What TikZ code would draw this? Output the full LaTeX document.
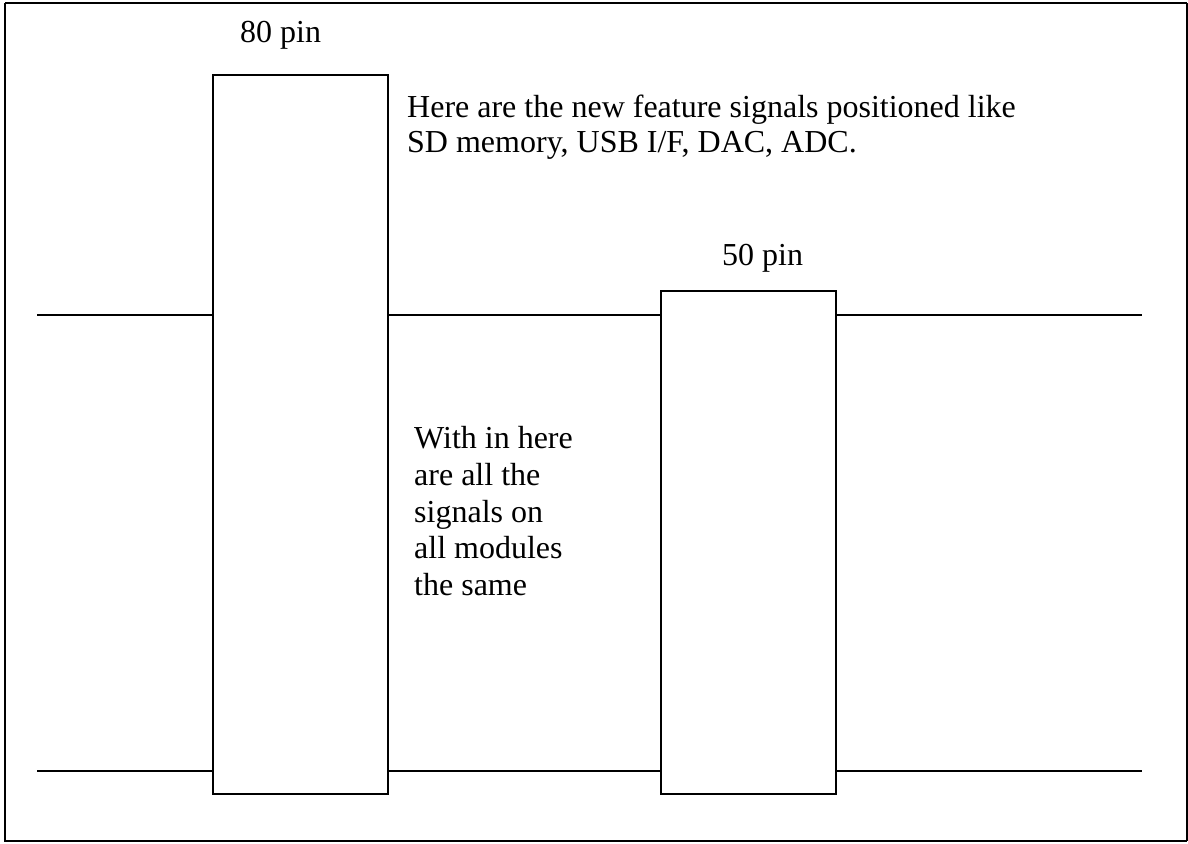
\documentclass[tikz,border=0pt]{standalone}
\usepackage{fontspec}
\setmainfont{Liberation Serif}
\begin{document}
\begin{tikzpicture}[x=1pt,y=-1pt,
  ln/.style={line width=2pt,black},
  pinbox/.style={draw,line width=2pt,rectangle,inner sep=0pt,fill=none},
  lbl/.style={anchor=base west,inner sep=0pt,font=\fontsize{32}{36}\selectfont}]
\useasboundingbox (0,0) rectangle (1188,843);
% outer frame
\draw[line width=2pt] (5,3) -- (1187,3);
\draw[line width=2pt] (5,3) -- (5,841) -- (1187,841);
\draw[line width=2pt] (1187,3) -- (1187,841);
% boxes
\node[pinbox,minimum width=175pt,minimum height=719pt] (box80) at (300.5,434.5) {};
\node[pinbox,minimum width=175pt,minimum height=503pt] (box50) at (748.5,542.5) {};
% bus line end points
\coordinate (tl) at (37,315);
\coordinate (tr) at (1142,315);
\coordinate (bl) at (37,771);
\coordinate (br) at (1142,771);
\draw[ln] (tl) -- (box80.west |- tl);
\draw[ln] (box80.east |- tl) -- (box50.west |- tl);
\draw[ln] (box50.east |- tr) -- (tr);
\draw[ln] (bl) -- (box80.west |- bl);
\draw[ln] (box80.east |- bl) -- (box50.west |- bl);
\draw[ln] (box50.east |- br) -- (br);
% labels
\node[lbl] (l80) at (240,43) {80 pin};
\node[lbl] (l50) at (722,265) {50 pin};
\node[lbl] (t1) at (407,117) {Here are the new feature signals positioned like};
\node[lbl] (t2) at (407,152) {SD memory, USB I/F, DAC, ADC.};
\node[lbl] (w1) at (414,448) {With in here};
\node[lbl] (w2) at (414,485) {are all the};
\node[lbl] (w3) at (414,522) {signals on};
\node[lbl] (w4) at (414,558) {all modules};
\node[lbl] (w5) at (414,595) {the same};
\end{tikzpicture}
\end{document}
